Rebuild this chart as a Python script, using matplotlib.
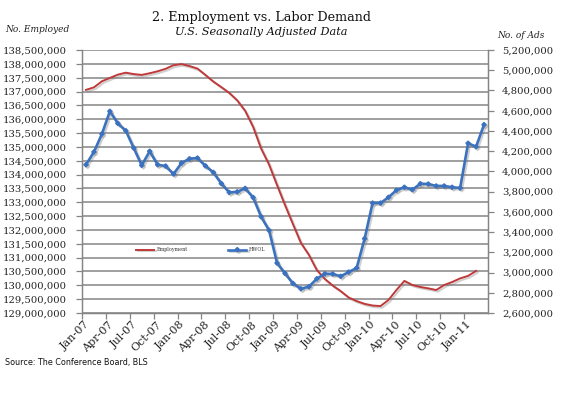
"""
Employment vs. Labor Demand - recreation du graphique Conference Board / BLS
"""

import matplotlib
matplotlib.use("Agg")
import matplotlib.pyplot as plt
import matplotlib.patheffects as pe
from matplotlib.ticker import FuncFormatter, NullFormatter
import matplotlib.transforms as mtransforms
import numpy as np

# Donnees (mensuel, Jan-07 -> Mar-11)
TICK_LABELS = ['Jan-07', 'Apr-07', 'Jul-07', 'Oct-07', 'Jan-08', 'Apr-08',
               'Jul-08', 'Oct-08', 'Jan-09', 'Apr-09', 'Jul-09', 'Oct-09',
               'Jan-10', 'Apr-10', 'Jul-10', 'Oct-10', 'Jan-11']

# Emploi (BLS), Jan-07 -> Feb-11
employment = [
    137060000, 137150000, 137370000, 137490000, 137610000, 137680000,
    137630000, 137600000, 137660000, 137730000, 137820000, 137950000,
    137990000, 137920000, 137830000, 137600000, 137360000, 137160000,
    136950000, 136680000, 136300000, 135720000, 134940000, 134360000,
    133620000, 132900000, 132210000, 131530000, 131100000, 130550000,
    130230000, 129990000, 129790000, 129560000, 129430000, 129330000,
    129270000, 129250000, 129470000, 129830000, 130160000, 130010000,
    129940000, 129890000, 129830000, 130010000, 130120000, 130250000,
    130340000, 130520000,
]

# Annonces en ligne (HWOL), Jan-07 -> Mar-11
hwol = [
    4066000, 4192000, 4370000, 4594000, 4475000, 4402000, 4231000, 4060000,
    4199000, 4066000, 4053000, 3974000, 4083000, 4125000, 4132000, 4055000,
    3990000, 3880000, 3792000, 3798000, 3832000, 3742000, 3552000, 3417000,
    3094000, 2992000, 2892000, 2840000, 2860000, 2939000, 2988000, 2986000,
    2963000, 3005000, 3045000, 3335000, 3687000, 3687000, 3744000, 3814000,
    3843000, 3819000, 3878000, 3875000, 3856000, 3856000, 3843000, 3836000,
    4278000, 4244000, 4462000,
]

RED = '#c0393a'
BLUE = '#3b72c0'
GRID = '#858585'
SERIF = 'DejaVu Serif'


def comma(v, pos):
    return f"{int(round(v)):,}"


def plot_chart():
    fig = plt.figure(figsize=(5.86, 3.94), dpi=100)
    ax = fig.add_axes([82 / 586, 81 / 394, 406 / 586, 263 / 394])
    ax2 = ax.twinx()

    shadow = [pe.SimpleLineShadow(offset=(1.2, -1.2), shadow_color='#777777', alpha=0.35),
              pe.Normal()]

    x_emp = np.arange(len(employment))
    x_hwol = np.arange(len(hwol))

    ax.plot(x_emp, employment, color=RED, linewidth=1.4, label='Employment',
            path_effects=shadow, zorder=3)
    ax2.plot(x_hwol, hwol, color=BLUE, linewidth=1.9, marker='D', markersize=2.2,
             label='HWOL', path_effects=shadow, zorder=3)

    # Axe gauche : emploi
    ax.set_ylim(129000000, 138500000)
    ax.set_yticks(np.arange(129000000, 138500001, 500000))
    ax.yaxis.set_major_formatter(FuncFormatter(comma))
    ax.grid(axis='y', color=GRID, linewidth=1.1)
    ax.set_axisbelow(True)

    # Axe droit : annonces
    ax2.set_ylim(2600000, 5200000)
    ax2.set_yticks(np.arange(2600000, 5200001, 200000))
    ax2.yaxis.set_major_formatter(FuncFormatter(comma))

    # Axe des x (categories, graduation tous les 3 mois)
    ax.set_xlim(-0.5, 50.5)
    ticks = np.arange(len(TICK_LABELS)) * 3 - 0.5
    ax.set_xticks(ticks)
    ax.xaxis.set_major_formatter(NullFormatter())
    # etiquettes posees a la main, decalees sous la graduation
    trans = mtransforms.blended_transform_factory(ax.transData, ax.transAxes)
    offset = mtransforms.ScaledTranslation(6 / 100, -10 / 100, fig.dpi_scale_trans)
    for t, lab in zip(ticks, TICK_LABELS):
        ax.text(t, 0, lab, transform=trans + offset, rotation=45,
                ha='right', va='center', rotation_mode='anchor',
                family=SERIF, fontsize=8, color='#222222')

    for a in (ax, ax2):
        for side in ('top', 'bottom', 'left', 'right'):
            a.spines[side].set_color(GRID)
            a.spines[side].set_linewidth(0.9)
        a.tick_params(colors=GRID, labelcolor='#222222', length=4, width=0.9)
        a.tick_params(axis='y', labelsize=7.2)
        for lbl in a.get_yticklabels():
            lbl.set_family(SERIF)
    ax.spines['top'].set_visible(False)
    ax2.spines['top'].set_visible(False)
    ax.tick_params(axis='y', pad=7)
    ax2.tick_params(axis='y', pad=6)

    # Legende au milieu du graphique
    h1, l1 = ax.get_legend_handles_labels()
    h2, l2 = ax2.get_legend_handles_labels()
    leg = ax2.legend(h1 + h2, l1 + l2, ncol=2, frameon=False,
                     loc='center', bbox_to_anchor=(0.293, 0.24),
                     prop={'family': SERIF, 'size': 3.5},
                     handlelength=3.7, columnspacing=8.2, handletextpad=0.6)
    for t in leg.get_texts():
        t.set_color('#333333')

    # Titres
    fig.text(262 / 586, 1 - 17 / 394, '2. Employment vs. Labor Demand',
             ha='center', va='center', family=SERIF, fontsize=9.2, color='#111111')
    fig.text(261 / 586, 1 - 32 / 394, 'U.S. Seasonally Adjusted Data',
             ha='center', va='center', family=SERIF, style='italic', fontsize=8.1,
             color='#111111')
    fig.text(5 / 586, 1 - 30 / 394, 'No. Employed', ha='left', va='center',
             family=SERIF, style='italic', fontsize=6.5, color='#222222')
    fig.text(497 / 586, 1 - 35 / 394, 'No. of Ads', ha='left', va='center',
             family=SERIF, style='italic', fontsize=6.5, color='#222222')
    fig.text(5 / 586, 1 - 363 / 394, 'Source: The Conference Board, BLS',
             ha='left', va='center', family='DejaVu Sans', fontsize=5.8,
             color='#111111')

    fig.savefig('out.png', dpi=100)


def main():
    plot_chart()


if __name__ == "__main__":
    main()
